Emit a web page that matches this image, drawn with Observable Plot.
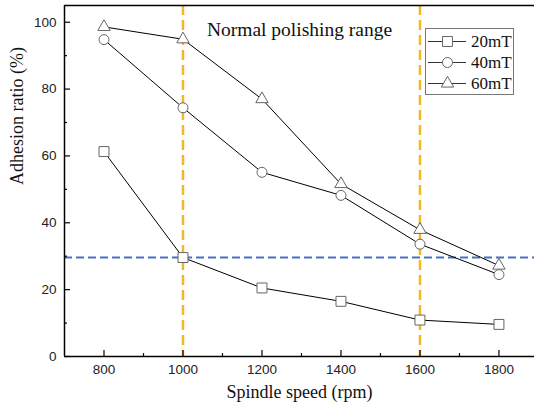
<!DOCTYPE html>
<html>
<head>
<meta charset="utf-8">
<script src="https://cdn.jsdelivr.net/npm/d3@7"></script>
<script src="https://cdn.jsdelivr.net/npm/@observablehq/plot@0.6"></script>
<style>
  html, body { margin: 0; padding: 0; background: white; }
</style>
</head>
<body>
<div id="chart"></div>
<script>
const speeds = [800, 1000, 1200, 1400, 1600, 1800];
const adhesion20 = [61.3, 29.6, 20.5, 16.5, 10.9, 9.6];
const adhesion40 = [94.8, 74.4, 55.1, 48.2, 33.6, 24.5];
const adhesion60 = [98.6, 94.9, 77.0, 51.6, 37.9, 27.2];
const seriesNames = ["20mT", "40mT", "60mT"];
const seriesSymbols = ["square", "circle", "triangle"];
const seriesR = [5.6, 5, 4.6];
const xTicks = [800, 1000, 1200, 1400, 1600, 1800];
const xMinor = [900, 1100, 1300, 1500, 1700];
const yTicks = [0, 20, 40, 60, 80, 100];
const yMinor = [10, 30, 50, 70, 90];
const rangeLines = [1000, 1600];
const threshold = [29.6];
const annotation = "Normal polishing range";

const allSeries = [adhesion20, adhesion40, adhesion60];
const rows = [];
allSeries.forEach((vals, i) => vals.forEach((v, j) => rows.push({speed: speeds[j], value: v, series: seriesNames[i]})));

const serif = "'Liberation Serif', 'Times New Roman', serif";
const markerStroke = "#666";

const marks = [
  Plot.ruleX(rangeLines, {stroke: "#f4b827", strokeWidth: 2.5, strokeDasharray: "10,5"}),
  Plot.ruleY(threshold, {stroke: "#4472c4", strokeWidth: 2, strokeDasharray: "8,4"}),
  Plot.line(rows, {x: "speed", y: "value", z: "series", stroke: "black", strokeWidth: 1})
];
seriesNames.forEach((name, i) => {
  marks.push(Plot.dot(rows.filter(d => d.series === name), {
    x: "speed", y: "value", symbol: () => seriesSymbols[i], r: seriesR[i],
    fill: "white", stroke: markerStroke, strokeWidth: 1
  }));
});
marks.push(
  Plot.ruleX([700], {stroke: "black", strokeWidth: 1.5}),
  Plot.ruleY([0, 105], {stroke: "black", strokeWidth: 1.5}),
  Plot.tickX(xTicks, {x: d => d, insetTop: 345, stroke: "black", strokeWidth: 1.2}),
  Plot.tickX(xMinor, {x: d => d, insetTop: 348, stroke: "black", strokeWidth: 1.2}),
  Plot.tickY(yTicks, {y: d => d, insetRight: 464, stroke: "black", strokeWidth: 1.2}),
  Plot.tickY(yMinor, {y: d => d, insetRight: 467, stroke: "black", strokeWidth: 1.2}),
  Plot.text([annotation], {x: 1295, y: 97.6, text: d => d, fontFamily: serif, fontSize: 19.5, fill: "#111"}),
  Plot.text(["Spindle speed (rpm)"], {frameAnchor: "bottom", dy: 41, text: d => d, fontFamily: serif, fontSize: 18, fill: "#111"}),
  Plot.text(["Adhesion ratio (%)"], {frameAnchor: "left", dx: -47, dy: 4, rotate: -90, text: d => d, fontFamily: serif, fontSize: 18, fill: "#111"})
);

const chart = Plot.plot({
  width: 534,
  height: 409,
  marginLeft: 64,
  marginRight: 0,
  marginTop: 5,
  marginBottom: 53,
  style: {fontFamily: "'Liberation Sans', Arial, sans-serif", fontSize: "13.5px", color: "#222", background: "white"},
  x: {domain: [700, 1890], ticks: xTicks, tickSize: 0, tickPadding: 8, label: null, tickFormat: d => String(d)},
  y: {domain: [0, 105], ticks: yTicks, tickSize: 0, tickPadding: 8, label: null},
  marks
});
document.getElementById("chart").appendChild(chart);

// Legend
const svg = d3.select(chart);
const lg = svg.append("g").attr("class", "legend").attr("text-anchor", "start");
lg.append("rect").attr("x", 425.5).attr("y", 28.5).attr("width", 88).attr("height", 66)
  .attr("fill", "white").attr("stroke", "#777").attr("stroke-width", 1);
const rowY = [41.5, 62.5, 83.5];
const symMap = {square: d3.symbolSquare, circle: d3.symbolCircle, triangle: d3.symbolTriangle};
seriesNames.forEach((name, i) => {
  const g = lg.append("g").attr("transform", `translate(0,${rowY[i]})`);
  g.append("line").attr("x1", 428).attr("x2", 466).attr("y1", 0).attr("y2", 0).attr("stroke", "#333").attr("stroke-width", 1);
  g.append("path").attr("transform", "translate(447.5,0)")
    .attr("d", d3.symbol(symMap[seriesSymbols[i]], Math.PI * seriesR[i] * seriesR[i])())
    .attr("fill", "white").attr("stroke", markerStroke).attr("stroke-width", 1);
  g.append("text").attr("x", 471).attr("y", 0).attr("dy", "0.35em").attr("text-anchor", "start")
    .attr("font-family", serif).attr("font-size", 17).attr("fill", "#111").text(name);
});
</script>
</body>
</html>
